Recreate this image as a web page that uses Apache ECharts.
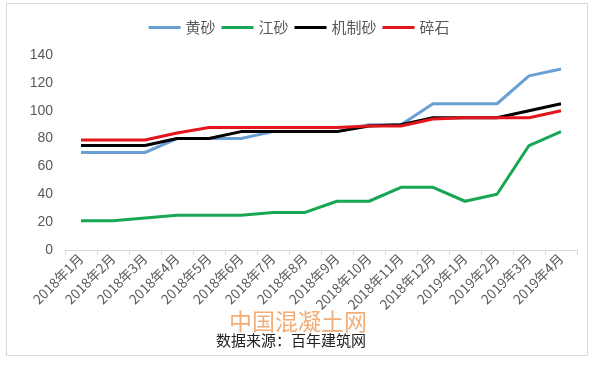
<!DOCTYPE html>
<html><head><meta charset="utf-8">
<script src="https://cdn.jsdelivr.net/npm/echarts@6/dist/echarts.min.js"></script>
<style>html,body{margin:0;padding:0;background:#fff}#c{width:598px;height:366px}</style>
</head><body><div id="c"></div>
<script>
const categories = ['2018年1月','2018年2月','2018年3月','2018年4月','2018年5月','2018年6月','2018年7月','2018年8月','2018年9月','2018年10月','2018年11月','2018年12月','2019年1月','2019年2月','2019年3月','2019年4月'];
const huangsha = [70,70,70,80,80,80,85,85,85,90,90,105,105,105,125,130];
const jiangsha = [21,21,23,25,25,25,27,27,35,35,45,45,35,40,75,85];
const jizhisha = [75,75,75,80,80,85,85,85,85,89,90,95,95,95,100,105];
const suishi = [79,79,79,84,88,88,88,88,88,89,89,94,95,95,95,100];
const yTicks = [0,20,40,60,80,100,120,140];

const chart = echarts.init(document.getElementById('c'));
const lab = '#595959';
function s(name, data, color){
  return {name, type:'line', data, symbol:'none', smooth:false,
    lineStyle:{width:3, color}, itemStyle:{color}};
}
chart.setOption({
  animation:false,
  backgroundColor:'#fff',
  graphic:[
    {type:'rect', shape:{x:6.5,y:3.5,width:581,height:352}, style:{fill:'none', stroke:'#d9d9d9', lineWidth:1}, z:-1},
    {type:'text', left:229, top:310, style:{text:'中国混凝土网', fill:'#f0a060', font:'23px "Noto Sans CJK SC"', opacity:0.85}},
    {type:'text', left:216, top:333, style:{text:'数据来源：百年建筑网', fill:'#222', font:'15px "Noto Sans CJK SC"'}}
  ],
  legend:{top:15, left:'center', itemWidth:32, itemHeight:3, itemGap:6,
    icon:'rect',
    textStyle:{color:lab, fontSize:15, fontFamily:'Noto Sans CJK SC'},
    data:['黄砂','江砂','机制砂','碎石']},
  grid:{left:65, right:21, top:55, bottom:116, containLabel:false},
  xAxis:{type:'category', data:categories, boundaryGap:true,
    axisLine:{lineStyle:{color:'#d9d9d9'}},
    axisTick:{show:true, length:5, lineStyle:{color:'#d9d9d9'}},
    axisLabel:{rotate:45, color:lab, fontSize:13.5, interval:0, margin:6, fontFamily:'Noto Sans CJK SC'}},
  yAxis:{type:'value', min:yTicks[0], max:yTicks[yTicks.length-1], interval:20,
    axisLine:{show:false}, axisTick:{show:false}, splitLine:{show:false},
    axisLabel:{color:lab, fontSize:14, margin:12, fontFamily:'Liberation Sans'}},
  series:[
    s('黄砂', huangsha, '#6a9fd4'),
    s('江砂', jiangsha, '#17a653'),
    s('机制砂', jizhisha, '#000000'),
    s('碎石', suishi, '#e3161c')
  ]
});
</script></body></html>
